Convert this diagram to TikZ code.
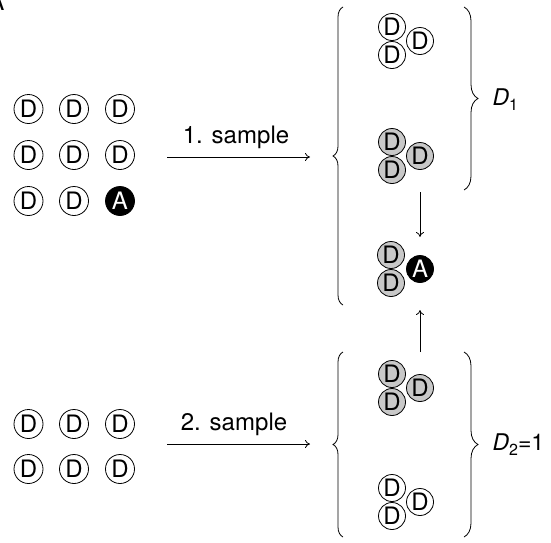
\documentclass[tikz,border=0pt]{standalone}
\usepackage{fontspec}
\setmainfont{TeX Gyre Heros}
\usetikzlibrary{arrows.meta,decorations.pathreplacing}
\definecolor{ballgray}{RGB}{200,200,200}
\begin{document}
\begin{tikzpicture}[x=1pt,y=-1pt,
  ball/.style={circle,draw,line width=0.8pt,inner sep=0pt,minimum size=29pt,
    font=\fontsize{24}{24}\selectfont},
  cball/.style={ball,minimum size=27pt},
  grayball/.style={cball,fill=ballgray},
  whiteball/.style={cball,fill=white},
  aball/.style={cball,fill=black,text=white},
  arr/.style={line width=0.8pt,-{To[length=5pt,width=8pt]}},
  lbl/.style={font=\fontsize{24}{24}\selectfont},
  dlbl/.style={font=\fontsize{23}{23}\selectfont,anchor=west},
  lbrace/.style={line width=0.8pt,decorate,decoration={brace,amplitude=10pt}},
  rbrace/.style={line width=0.8pt,decorate,decoration={brace,amplitude=14pt}}
]
\useasboundingbox (0,0) rectangle (551,542);

% panel letter
\node[lbl,anchor=base] (panel) at (-3.5,10) {A};

% first population: eight D and one A
\foreach \r/\y in {1/109,2/155,3/201}{
  \foreach \c/\x in {1/28.5,2/74,3/120}{
    \ifnum\r\c=33\relax
      \node[ball,fill=black,text=white] (p\r\c) at (\x,\y) {A};
    \else
      \node[ball] (p\r\c) at (\x,\y) {D};
    \fi
  }
}

% second population: six D
\foreach \r/\y in {1/424,2/469}{
  \foreach \c/\x in {1/28.5,2/74,3/120}{
    \node[ball] (q\r\c) at (\x,\y) {D};
  }
}

% sampling arrows
\coordinate (s1a) at (167,157);
\coordinate (s1b) at (310,157);
\draw[arr] (s1a) -- (s1b);
\node[lbl] (s1l) at (236,137) {1. sample};

\coordinate (s2a) at (167,444);
\coordinate (s2b) at (310,444);
\draw[arr] (s2a) -- (s2b);
\node[lbl] (s2l) at (234,424) {2. sample};

% triples
% upper white triple
\node[whiteball] (w1u) at (392,27) {D};
\node[whiteball] (w1l) at (392,55) {D};
\node[whiteball] (w1r) at (420,41) {D};
% upper gray triple
\node[grayball] (g1u) at (392,142) {D};
\node[grayball] (g1l) at (392,170) {D};
\node[grayball] (g1r) at (420,156) {D};
% mixed triple
\node[grayball] (m1u) at (391,255) {D};
\node[grayball] (m1l) at (391,283) {D};
\node[aball] (m1r) at (420,269) {A};
% lower gray triple
\node[grayball] (g2u) at (392,374) {D};
\node[grayball] (g2l) at (392,402) {D};
\node[grayball] (g2r) at (420,388) {D};
% lower white triple
\node[whiteball] (w2u) at (392,488) {D};
\node[whiteball] (w2l) at (392,516) {D};
\node[whiteball] (w2r) at (420,502) {D};

% vertical arrows into the mixed triple
\coordinate (da) at (420,192);
\coordinate (db) at (420,237);
\draw[arr] (da) -- (db);
\coordinate (ua) at (420,352);
\coordinate (ub) at (420,310);
\draw[arr] (ua) -- (ub);

% braces
\coordinate (b1s) at (343,305);
\coordinate (b1e) at (343,7);
\draw[lbrace] (b1s) -- (b1e);
\coordinate (b2s) at (464,7);
\coordinate (b2e) at (464,190);
\draw[rbrace] (b2s) -- (b2e);
\coordinate (b3s) at (343,537);
\coordinate (b3e) at (343,352);
\draw[lbrace] (b3s) -- (b3e);
\coordinate (b4s) at (464,352);
\coordinate (b4e) at (464,537);
\draw[rbrace] (b4s) -- (b4e);

% brace labels
\node[dlbl] (d1) at (489,100) {\textit{D}\raisebox{-0.22em}{\fontsize{16}{16}\selectfont 1}};
\node[dlbl] (d2) at (489,445) {\textit{D}\raisebox{-0.22em}{\fontsize{16}{16}\selectfont 2}=1};
\end{tikzpicture}
\end{document}
